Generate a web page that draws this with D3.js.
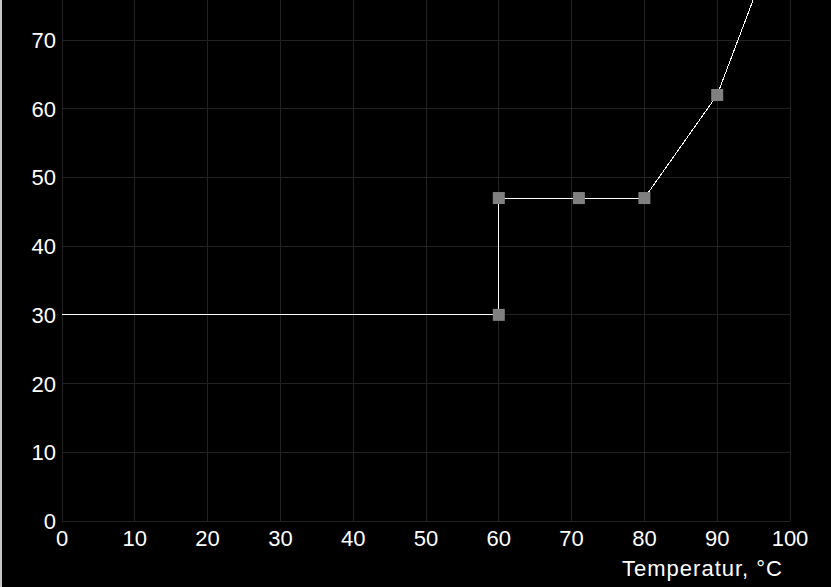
<!DOCTYPE html>
<html>
<head>
<meta charset="utf-8">
<script src="https://cdn.jsdelivr.net/npm/d3@7"></script>
<style>
  html, body { margin: 0; padding: 0; background: #000; overflow: hidden; }
  svg { display: block; }
  text { font-family: "Liberation Sans", Arial, sans-serif; fill: #fff; }
</style>
</head>
<body>
<script>
// data
var temps = [0, 60, 60, 71, 80, 90, 100];
var values = [30, 30, 47, 47, 47, 62, 90];
var markerIdx = [1, 2, 3, 4, 5]; // points that carry a marker
var xTicks = [0, 10, 20, 30, 40, 50, 60, 70, 80, 90, 100];
var yTicks = [0, 10, 20, 30, 40, 50, 60, 70];
var xTitle = "Temperatur, °C";

var width = 831, height = 587;

var x = d3.scaleLinear().domain([0, 100]).range([62, 790]);
var y = d3.scaleLinear().domain([0, 70]).range([521, 40]);

var svg = d3.select("body").append("svg")
    .attr("width", width)
    .attr("height", height);

svg.append("rect").attr("width", width).attr("height", height).attr("fill", "#000");

// left edge frame
svg.append("rect").attr("x", 0).attr("y", 0).attr("width", 2).attr("height", height).attr("fill", "#c8c8c8");

// grid
var grid = svg.append("g").attr("stroke", "#222").attr("stroke-width", 1).attr("shape-rendering", "crispEdges");
grid.selectAll(".vx").data(xTicks).enter().append("line")
    .attr("x1", function(d) { return x(d); })
    .attr("x2", function(d) { return x(d); })
    .attr("y1", 0)
    .attr("y2", y(0));
grid.selectAll(".hy").data(yTicks).enter().append("line")
    .attr("x1", x(0))
    .attr("x2", x(100))
    .attr("y1", function(d) { return y(d); })
    .attr("y2", function(d) { return y(d); });

// tick labels
svg.selectAll(".xl").data(xTicks).enter().append("text")
    .attr("x", function(d) { return x(d); })
    .attr("y", 546)
    .attr("text-anchor", "middle")
    .attr("font-size", 22)
    .text(function(d) { return d; });

svg.selectAll(".yl").data(yTicks).enter().append("text")
    .attr("x", 56)
    .attr("y", function(d) { return y(d) + 8; })
    .attr("text-anchor", "end")
    .attr("font-size", 22)
    .text(function(d) { return d; });

svg.append("text")
    .attr("x", 783)
    .attr("y", 576)
    .attr("text-anchor", "end")
    .attr("font-size", 22)
    .attr("letter-spacing", 1)
    .text(xTitle);

// clip to plot
svg.append("clipPath").attr("id", "clip")
  .append("rect").attr("x", x(0)).attr("y", 0).attr("width", x(100) - x(0)).attr("height", y(0));

var pts = temps.map(function(t, i) { return [t, values[i]]; });

var line = d3.line()
    .x(function(d) { return x(d[0]); })
    .y(function(d) { return y(d[1]); });

var plot = svg.append("g").attr("clip-path", "url(#clip)");

plot.append("path")
    .datum(pts)
    .attr("d", line)
    .attr("fill", "none")
    .attr("stroke", "#fff")
    .attr("stroke-width", 1)
    .attr("shape-rendering", "crispEdges");

plot.selectAll(".m").data(markerIdx.map(function(i) { return pts[i]; })).enter().append("rect")
    .attr("x", function(d) { return x(d[0]) - 6; })
    .attr("y", function(d) { return y(d[1]) - 6; })
    .attr("width", 12)
    .attr("height", 12)
    .attr("fill", "#808080");
</script>
</body>
</html>
